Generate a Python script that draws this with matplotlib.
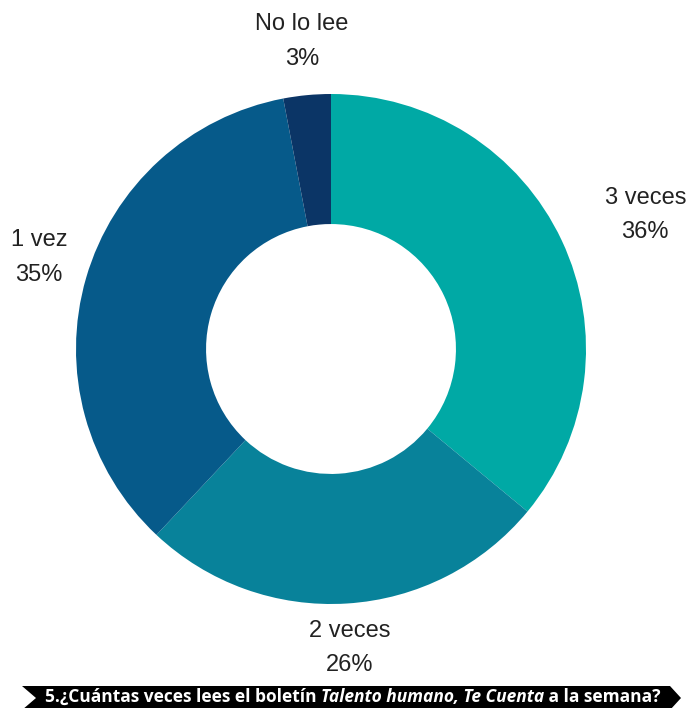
import matplotlib.pyplot as plt
import numpy as np
from matplotlib.patches import Polygon

# datos
categorias = ['3 veces', '2 veces', '1 vez', 'No lo lee']
porcentajes = [36, 26, 35, 3]
colores = ['#00A9A5', '#08829A', '#065A8A', '#0B3566']
dist_etiqueta = [1.34, 1.175, 1.20, 1.21]
giro_etiqueta = [-2.1, 0, -1.2, 0]  # grados
titulo_partes = [('5.¿Cuántas veces lees el boletín ', 'normal'),
                 ('Talento humano, Te Cuenta', 'italic'),
                 (' a la semana?', 'normal')]

W, H = 693, 708
R = 255.0
cx, cy = 331, 359  # centro en pixeles (desde abajo)

fig = plt.figure(figsize=(W / 100, H / 100), dpi=100)
ax = fig.add_axes([0, 0, 1, 1])

wedges, _ = ax.pie(porcentajes, colors=colores, startangle=90, counterclock=False,
                   radius=1.0, wedgeprops=dict(width=0.51, linewidth=0))
# la pie cambia los limites, se ponen despues
ax.set_xlim(-cx / R, (W - cx) / R)
ax.set_ylim(-cy / R, (H - cy) / R)
ax.set_aspect('equal', adjustable='datalim')
ax.axis('off')

# etiquetas
for w, cat, p, d, g in zip(wedges, categorias, porcentajes, dist_etiqueta, giro_etiqueta):
    ang = np.deg2rad((w.theta1 + w.theta2) / 2 + g)
    x, y = d * np.cos(ang), d * np.sin(ang)
    ax.text(x, y, f'{cat}\n{p}%', ha='center', va='center', fontsize=17,
            family='Liberation Sans', color='#222222', linespacing=1.75)

# banda inferior con forma de flecha
px = lambda v: (v - cx) / R
py = lambda v: (H - v - cy) / R
banda = Polygon([(px(22), py(686)), (px(670), py(686)), (px(681), py(698)),
                 (px(670), py(710)), (px(22), py(710)), (px(36), py(698))],
                closed=True, facecolor='black', edgecolor='none', clip_on=False)
ax.add_patch(banda)

# texto del titulo, por partes
fig.canvas.draw()
renderer = fig.canvas.get_renderer()
textos = []
for txt, estilo in titulo_partes:
    t = fig.text(0, 0, txt, fontsize=12.5, family='Open Sans', weight='bold',
                 style=estilo, color='white', va='center')
    textos.append(t)
anchos = [t.get_window_extent(renderer).width for t in textos]
total = sum(anchos)
x0 = (353 - total / 2) / W
yb = (H - 697) / H
for t, a in zip(textos, anchos):
    t.set_position((x0, yb))
    x0 += a / W

fig.savefig('out.png', dpi=100)
